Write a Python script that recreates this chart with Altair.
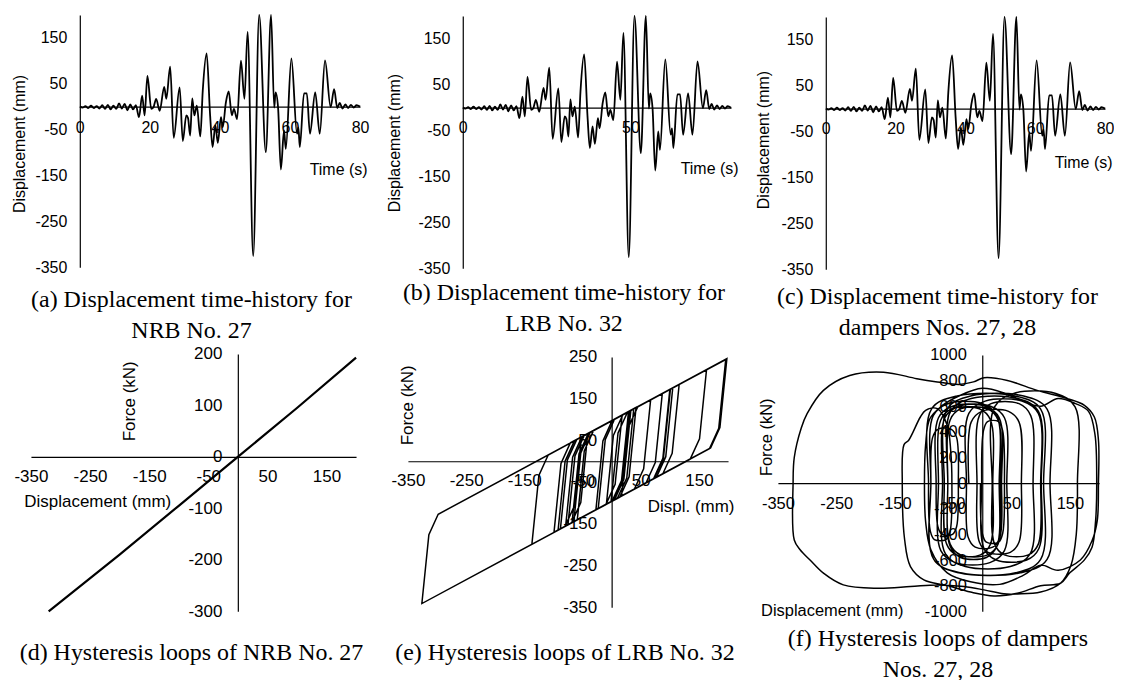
import altair as alt
import pandas as pd

# ---------------- data ----------------
TIME_S = [0, 0.8, 1.6, 2.4, 3.2, 4.0, 4.8, 5.6, 6.4, 7.2, 8.0, 8.8, 9.6, 10.4, 11.2, 12.0, 12.8, 13.6, 14.4, 15.2, 16.0,
          16.9, 17.8, 18.5, 19.3, 20.4, 21.0, 21.8, 22.8, 24.1, 24.7,
          25.8, 26.8, 28.5, 29.4, 30.4, 30.9, 31.5, 32.1, 32.7, 33.4,
          34.4, 35.1, 36.2, 37.2, 37.9, 38.7, 39.4, 40.3, 40.8, 41.7,
          42.5, 43.4, 44.0, 44.9, 46.0, 47.0, 47.9, 49.5, 51.2, 53.1,
          54.6, 55.5, 55.9, 56.6, 57.4, 58.3, 58.8, 60.4, 62.0, 62.4,
          62.8, 64.0, 64.8, 65.7, 67.2, 68.5, 70.0, 71.6, 72.6, 73.5,
          74.2, 75.0, 75.8, 76.6, 77.4, 78.2, 79.0, 80.0]
DISP_MM = [0, -2, 1, -3, 2, -3, 1, -4, 3, -5, 4, -6, 2, -5, 7, -4, 6, -8, 5, -6, 3,
           -23, 24, -19, 67, -5, -2, 17, -9, 43, 17,
           87, -68, 42, -75, -19, -25, -63, 18, -19, 2,
           -65, 35, 116, -19, -88, -41, -79, -23, -45, 9,
           33, -19, -5, -27, 100, 17, 163, -326, 215, -99,
           212, -2, 31, -2, -137, -52, -92, 105, -59, -45,
           -88, 29, 29, -59, 31, -59, 101, -1, 38, -3,
           8, -4, 5, -3, 4, -2, 3, 0]

NRB_DISP = [-320, -200, -100, 0, 100, 200]
NRB_FORCE = [-302, -190, -95, 0, 95, 193]

LRB_DISP = [-23, -11, 5, 67, 55, 39, -9, 3, 19,
            87, 75, 59, -68, -56, -40, 42, 30, 14,
            -75, -63, -47, 18, 6, -10, -65, -53, -37,
            116, 104, 88, -88, -76, -60, -41, -53, -69,
            -79, -67, -51, 33, 21, 5, -27, -15, 1,
            100, 88, 72, 17, 29, 45, 163, 151, 135,
            -326, -314, -298, 198, 186, 170, -99, -87, -71,
            196, 184, 168, -137, -125, -109, -52, -64, -80,
            -92, -80, -64, 105, 93, 77, -88, -76, -60,
            29, 17, 1, -59, -47, -31, 31, 19, 3,
            -59, -47, -31, 101, 89, 73, -1, 11, 27,
            38, 26, 10, -3]
LRB_FORCE = [-113, 52, 101, 147, -18, -67, -103, 62, 111,
             162, -3, -52, -147, 18, 67, 129, -37, -86,
             -152, 13, 62, 111, -55, -104, -145, 20, 69,
             184, 19, -30, -162, 3, 52, 66, -99, -148,
             -155, 10, 59, 122, -43, -92, -116, 49, 98,
             172, 7, -42, -83, 82, 131, 219, 54, 5,
             -341, -176, -127, 246, 81, 32, -170, -5, 44,
             244, 79, 30, -199, -34, 15, 58, -107, -156,
             -165, 0, 49, 176, 11, -38, -162, 3, 52,
             119, -46, -95, -140, 25, 74, 120, -45, -94,
             -140, 25, 74, 173, 8, -41, -97, 68, 117,
             126, -40, -88, -98]

DAMP_DISP = [-23,
             -19, -1, 45, 63, 67,
             63, 48, 10, -5, -9,
             -5, 15, 63, 83, 87,
             82, 48, -29, -63, -68,
             -64, -40, 14, 38, 42,
             38, 13, -46, -71, -75,
             -71, -52, -5, 14, 18,
             14, -3, -44, -61, -65,
             -60, -20, 71, 111, 116,
             111, 65, -37, -83, -88,
             -85, -76, -53, -44, -41,
             -44, -51, -69, -76, -79,
             -75, -51, 5, 29, 33,
             30, 18, -12, -24, -27,
             -23, 5, 68, 96, 100,
             96, 79, 38, 21, 17,
             21, 54, 126, 159, 163,
             161, 152, 134, 100, 60, 37, 3, -31, -77, -123, -180, -238, -272, -295, -312, -322, -324,
             -322, -310, -300, -272, -227, -169, -112, -77, -40, -15, 3, 43, 94, 146, 175, 192, 199, 199,
             197, 188, 168, 130, 100, 70, 30, -20, -60, -88, -97, -99,
             -97, -90, -70, -40, 0, 40, 70, 100, 130, 160, 182, 193, 196,
             194, 188, 175, 150, 134, 100, 60, 20, -20, -60, -100, -123, -133, -137,
             -134, -126, -106, -97, -77, -60, -54, -52,
             -55, -62, -82, -89, -92,
             -87, -43, 56, 100, 105,
             100, 57, -40, -83, -88,
             -84, -59, 0, 25, 29,
             25, 7, -37, -55, -59,
             -55, -37, 9, 27, 31,
             27, 9, -37, -55, -59,
             -54, -19, 61, 96, 101,
             97, 76, 24, 3, -1,
             2, 9, 28, 35, 38,
             35, 28, 7, 0, -3]
DAMP_FORCE = [0,
              476, 560, 560, 476, 0,
              -459, -540, -540, -459, 0,
              527, 620, 620, 527, 0,
              -553, -650, -650, -553, 0,
              510, 600, 600, 510, 0,
              -527, -620, -620, -527, 0,
              493, 580, 580, 493, 0,
              -476, -560, -560, -476, 0,
              578, 680, 680, 578, 0,
              -595, -700, -700, -595, 0,
              357, 420, 420, 357, 0,
              -340, -400, -400, -340, 0,
              510, 600, 600, 510, 0,
              -425, -500, -500, -425, 0,
              544, 640, 640, 544, 0,
              -476, -560, -560, -476, 0,
              595, 700, 700, 595, 0,
              -400, -640, -781, -850, -865, -864, -833, -807, -794, -807, -820, -794, -703, -600, -520, -444, 0,
              200, 430, 542, 724, 840, 866, 815, 790, 770, 790, 822, 801, 724, 659, 607, 516, 335, 0,
              -290, -450, -600, -680, -640, -720, -790, -770, -700, -520, -300, 0,
              300, 500, 600, 680, 740, 700, 640, 600, 660, 620, 560, 380, 0,
              -300, -500, -599, -700, -781, -800, -860, -880, -850, -800, -755, -651, -440, 0,
              300, 335, 516, 568, 581, 450, 250, 0,
              -374, -440, -440, -374, 0,
              578, 680, 680, 578, 0,
              -595, -700, -700, -595, 0,
              527, 620, 620, 527, 0,
              -493, -580, -580, -493, 0,
              493, 580, 580, 493, 0,
              -476, -560, -560, -476, 0,
              561, 660, 660, 561, 0,
              -510, -600, -600, -510, 0,
              408, 480, 480, 408, 0,
              -391, -460, -460, -391, 0]

TICKS_TOP_Y = [-350, -250, -150, -50, 50, 150]
TICKS_TIME_20 = [0, 20, 40, 60, 80]
TICKS_TIME_50 = [0, 50]
TICKS_DISP = [-350, -250, -150, -50, 50, 150]
TICKS_NRB_F = [-300, -200, -100, 0, 100, 200]
TICKS_LRB_F = [-350, -250, -150, -50, 50, 150, 250]
TICKS_DAMP_F = [-1000, -800, -600, -400, -200, 0, 200, 400, 600, 800, 1000]

CAPTIONS = [
    "(a) Displacement time-history for\nNRB No. 27",
    "(b) Displacement time-history for\nLRB No. 32",
    "(c) Displacement time-history for\ndampers Nos. 27, 28",
    "(d) Hysteresis loops of NRB No. 27",
    "(e) Hysteresis loops of LRB No. 32",
    "(f) Hysteresis loops of dampers\nNos. 27, 28",
]

# ---------------- layout ----------------
W, H = 1106, 672
AX_FONT = "Liberation Sans"
CAP_FONT = "Liberation Serif"

th_df = pd.DataFrame({"t": TIME_S, "d": DISP_MM})
nrb_df = pd.DataFrame({"d": NRB_DISP, "f": NRB_FORCE, "i": range(len(NRB_DISP))})
lrb_df = pd.DataFrame({"d": LRB_DISP, "f": LRB_FORCE, "i": range(len(LRB_DISP))})
damp_df = pd.DataFrame({"d": DAMP_DISP, "f": DAMP_FORCE, "i": range(len(DAMP_DISP))})


def zero_px(dom, rng):
    return rng[0] + (0 - dom[0]) / (dom[1] - dom[0]) * (rng[1] - rng[0])


def panel(df, xf, yf, xdom, xrng, ydom, yrng, xvals, yvals, xtitle, ytitle,
          xtitle_at, ytitle_at, fs, interp, ordered, sw, xpad, ypad):
    x0 = zero_px(xdom, xrng)
    y0 = zero_px(ydom, yrng)
    common = dict(domain=True, domainColor="black", domainWidth=1.2, ticks=False, grid=False,
                  labelFont=AX_FONT, labelFontSize=fs, labelColor="black",
                  labelFlush=False, labelOverlap=False, labelExpr="'' + datum.value",
                  titleFont=AX_FONT, titleFontSize=fs, titleFontWeight="normal", titleColor="black",
                  titleAlign="center", titleBaseline="middle")
    xaxis = alt.Axis(orient="bottom", offset=y0 - H, values=xvals, title=xtitle,
                     labelPadding=xpad, titleX=xtitle_at[0], titleY=xtitle_at[1] - y0,
                     titleAngle=0, **common)
    yaxis = alt.Axis(orient="left", offset=-x0, values=yvals, title=ytitle,
                     labelPadding=ypad, titleX=ytitle_at[0] - x0, titleY=ytitle_at[1],
                     titleAngle=270, **common)
    enc = dict(
        x=alt.X(f"{xf}:Q", scale=alt.Scale(domain=xdom, range=xrng, nice=False, zero=False, clamp=True), axis=xaxis),
        y=alt.Y(f"{yf}:Q", scale=alt.Scale(domain=ydom, range=yrng, nice=False, zero=False, clamp=True), axis=yaxis),
    )
    if ordered:
        enc["order"] = alt.Order("i:Q")
    return alt.Chart(df).mark_line(color="black", strokeWidth=sw, interpolate=interp).encode(**enc)


pa = panel(th_df, "t", "d", [0, 80], [72, 353], [-350, 200], [259, 6], TICKS_TIME_20, TICKS_TOP_Y,
           "Time (s)", "Displacement (mm)", (331, 161), (11.5, 135), 16, "monotone", False, 1.8, 13, 13)
pb = panel(th_df, "t", "d", [0, 80], [456, 725], [-350, 200], [260, 7], TICKS_TIME_50, TICKS_TOP_Y,
           "Time (s)", "Displacement (mm)", (703, 160), (388, 134), 16, "monotone", False, 1.8, 12, 13)
pc = panel(th_df, "t", "d", [0, 80], [820, 1100], [-350, 200], [261, 8], TICKS_TIME_20, TICKS_TOP_Y,
           "Time (s)", "Displacement (mm)", (1078, 154), (758, 131), 16, "monotone", False, 1.8, 12, 13)
pd_ = panel(nrb_df, "d", "f", [-350, 200], [23, 349], [-300, 200], [604, 346], TICKS_DISP, TICKS_NRB_F,
            "Displacement (mm)", "Force (kN)", (89.5, 494), (122, 393), 17, "linear", True, 2.2, 12, 16)
pe = panel(lrb_df, "d", "f", [-350, 200], [401, 722], [-350, 250], [600, 349], TICKS_DISP, TICKS_LRB_F,
           "Displ. (mm)", "Force (kN)", (684.5, 499), (401, 397), 17, "linear", True, 1.5, 11, 15)
pf = panel(damp_df, "d", "f", [-350, 200], [772, 1094], [-1000, 1000], [604, 347], TICKS_DISP, TICKS_DAMP_F,
           "Displacement (mm)", "Force (kN)", (826, 603.5), (760.5, 429), 16.5, "catmull-rom", True, 1.5, 12, 16)

CAP_POS = [(184, 299), (557.5, 292), (932, 296), (184, 653), (558.5, 653), (932.5, 639)]
caps = []
for text, (cx, cy) in zip(CAPTIONS, CAP_POS):
    caps.append(
        alt.Chart(pd.DataFrame({"c": [text]})).mark_text(
            font=CAP_FONT, fontSize=24, align="center", baseline="alphabetic",
            lineBreak="\n", lineHeight=31, color="black"
        ).encode(x=alt.value(cx), y=alt.value(cy), text="c:N")
    )

chart = alt.layer(pa, pb, pc, pd_, pe, pf, *caps).resolve_scale(
    x="independent", y="independent"
).resolve_axis(
    x="independent", y="independent"
).properties(
    width=W, height=H, padding=0, background="white"
).configure_view(stroke=None)

chart.save("out.html", embed_options={"renderer": "svg", "actions": False})
